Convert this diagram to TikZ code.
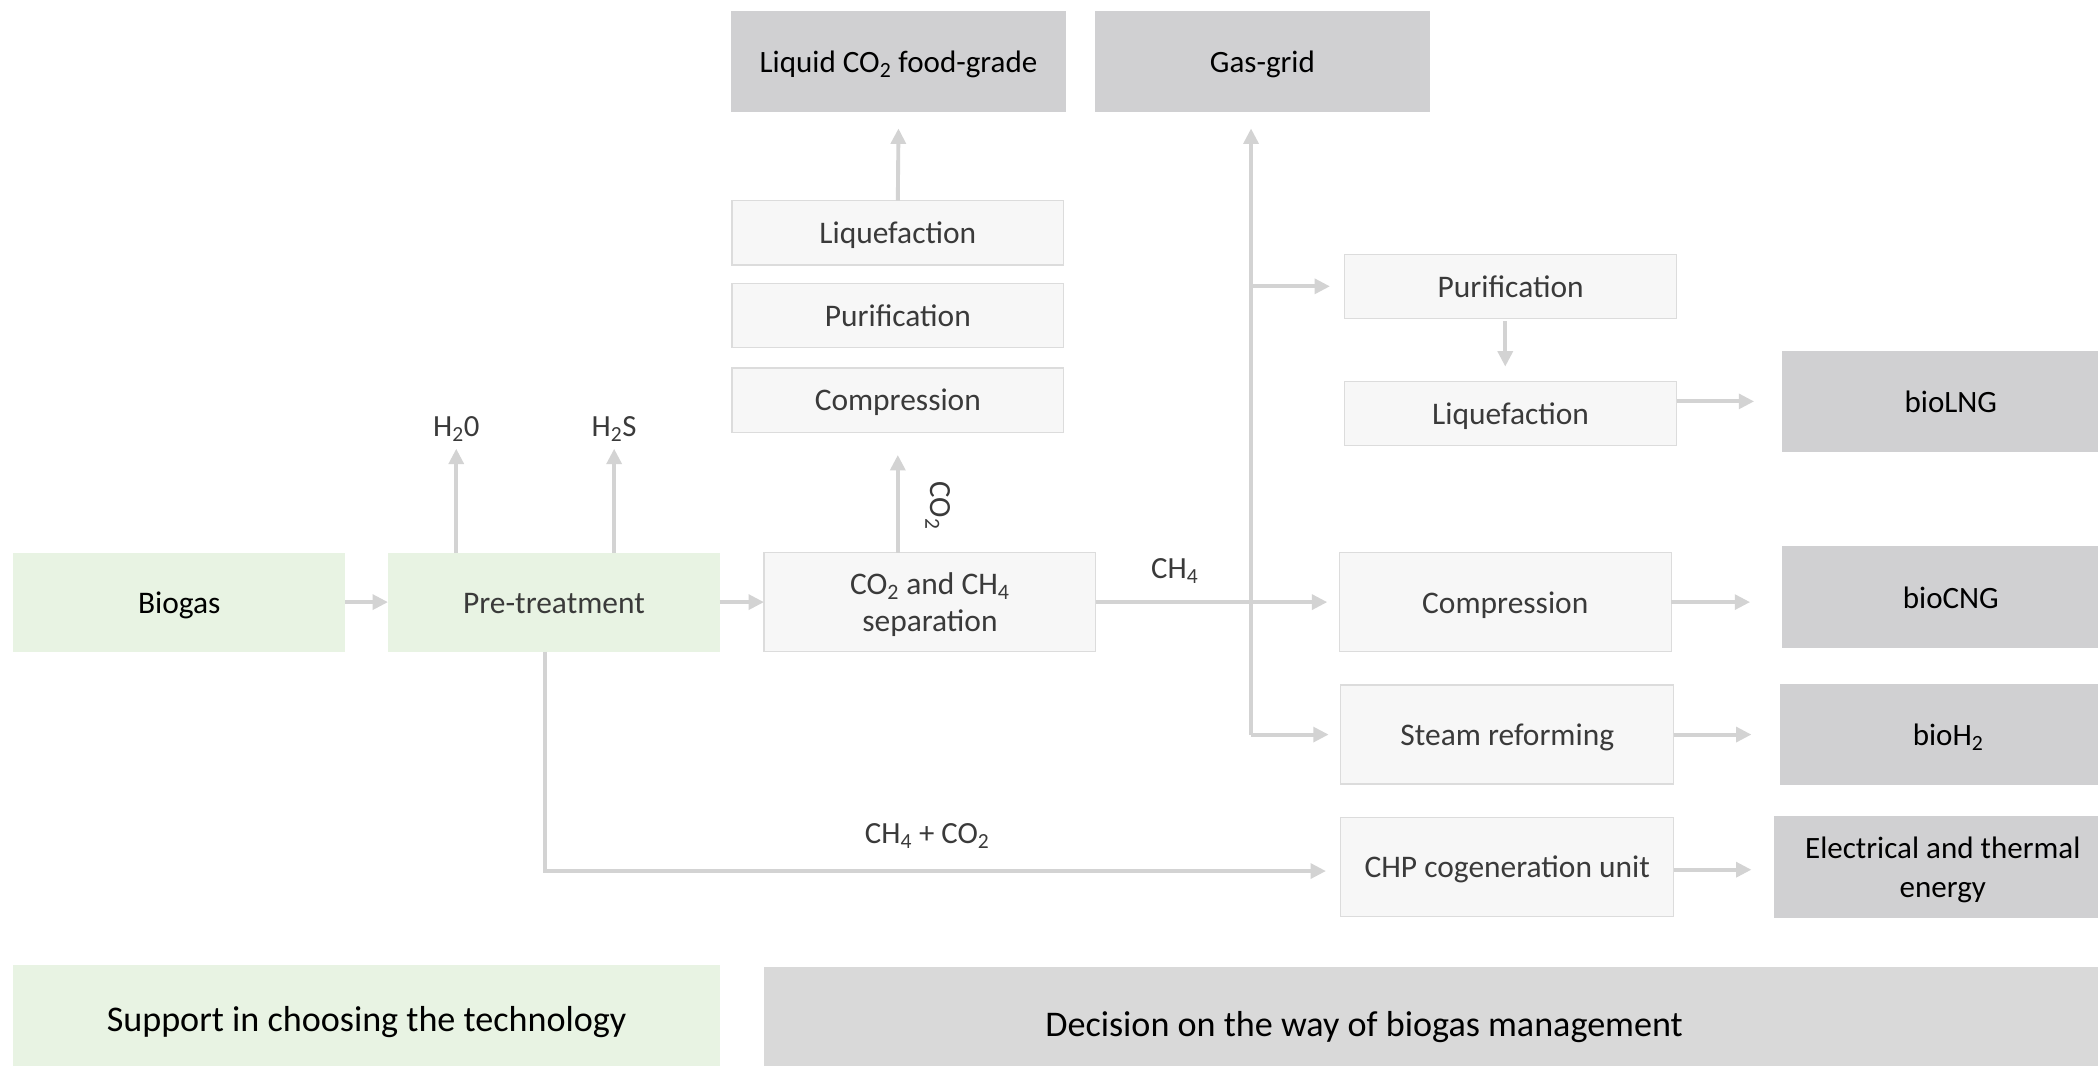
\documentclass[tikz,border=0pt]{standalone}
\usepackage{fontspec}
\setmainfont{Carlito}
\usetikzlibrary{arrows.meta,calc}
\definecolor{greenbox}{HTML}{E8F3E3}
\definecolor{procfill}{HTML}{F7F7F7}
\definecolor{procline}{HTML}{DCDCDC}
\definecolor{outfill}{HTML}{D0D0D2}
\definecolor{barfill}{HTML}{D9D9D9}
\definecolor{arrcol}{HTML}{D3D3D3}
\definecolor{txtgray}{HTML}{3A3A3A}
\tikzset{
  every node/.style={inner sep=0pt, outer sep=0pt},
  lowtext/.style={text height=21pt, text depth=4.7pt},
  procbox/.style={draw=procline, line width=0.9pt, fill=procfill, anchor=north west, align=center, font=\fontsize{23.5}{28}\selectfont, text=txtgray, lowtext},
  greenbox/.style={fill=greenbox, anchor=north west, align=center, font=\fontsize{23.5}{28}\selectfont, lowtext},
  outbox/.style={fill=outfill, anchor=north west, align=center, font=\fontsize{23.2}{29}\selectfont, text=black, text height=21.5pt, text depth=4.6pt},
  barbox/.style={anchor=north west, font=\fontsize{27}{32}\selectfont, text=black, text height=29pt, text depth=5.4pt},
  lbl/.style={font=\fontsize{23}{26}\selectfont, text=txtgray},
  arr/.style={draw=arrcol, line width=2.9pt, -{Triangle[length=11.5pt,width=11pt]}},
}
\newcommand{\sub}[1]{\textsubscript{#1}}
\begin{document}
\begin{tikzpicture}[x=1pt,y=-1pt]
\useasboundingbox (0,0) rectangle (1568,797);

% top outputs
\node[outbox, minimum width=251pt, minimum height=76pt] (liqco2) at (546,8) {Liquid CO\sub{2} food-grade};
\node[outbox, minimum width=251pt, minimum height=76pt] (gasgrid) at (818,8) {Gas-grid};

% CO2 column
\node[procbox, minimum width=248pt, minimum height=48pt] (liqA) at (547,150) {Liquefaction};
\node[procbox, minimum width=248pt, minimum height=48pt] (purA) at (547,212) {Purification};
\node[procbox, minimum width=248pt, minimum height=48pt] (compA) at (547,275) {Compression};

% main flow
\node[greenbox, minimum width=248pt, minimum height=74pt, text=black] (biogas) at (10,413) {Biogas};
\node[greenbox, minimum width=248pt, minimum height=74pt, text=txtgray] (pre) at (290,413) {Pre-treatment};
\node[procbox, minimum width=248pt, minimum height=74pt, text height=, text depth=0pt] (sep) at (571,413) {CO\sub{2} and CH\sub{4}\\separation};

% right process column
\node[procbox, minimum width=248pt, minimum height=48pt] (purB) at (1005,190) {Purification};
\node[procbox, minimum width=248pt, minimum height=48pt] (liqB) at (1005,285) {Liquefaction};
\node[procbox, minimum width=248pt, minimum height=74pt] (compB) at (1001,413) {Compression};
\node[procbox, minimum width=249pt, minimum height=74pt] (steam) at (1002,512) {Steam reforming};
\node[procbox, minimum width=249pt, minimum height=74pt] (chp) at (1002,611) {CHP cogeneration unit};

% right outputs (extend past the right edge)
\node[outbox, minimum width=252pt, minimum height=76pt] (lng) at (1332,262) {bioLNG};
\node[outbox, minimum width=252pt, minimum height=76pt] (cng) at (1332,408) {bioCNG};
\node[outbox, minimum width=252pt, minimum height=76pt] (h2) at (1330,511) {bioH\sub{2}};
\node[outbox, minimum width=252pt, minimum height=76pt, text height=, text depth=0pt] (elec) at (1326,610) {Electrical and thermal\\energy};

% bottom bars
\node[barbox, fill=greenbox, minimum width=528pt, minimum height=76pt] (support) at (10,721) {Support in choosing the technology};
\node[barbox, fill=barfill, minimum width=997pt, minimum height=74pt, text height=34pt] (decision) at (571,723) {\hspace*{-100pt}Decision on the way of biogas management};

% labels
\node[lbl] (h2o) at (341,321) {H\sub{2}0};
\node[lbl] (h2s) at (459,321) {H\sub{2}S};
\node[lbl, rotate=-90] (co2lbl) at (701,378) {CO\sub{2}};
\node[lbl] (ch4lbl) at (878,427) {CH\sub{4}};
\node[lbl] (mixlbl) at (693,625) {CH\sub{4} + CO\sub{2}};

% coordinates
\coordinate (vb) at (935,549);
\coordinate (vt) at (935,96);
\coordinate (bl) at (407,651);

% connectors
\draw[arr] (biogas.east) -- (pre.west);
\draw[arr] (pre.east) -- (sep.west);
\draw[arr] (pre.north -| h2o) -- ([yshift=-5pt]h2o.south);
\draw[arr] (pre.north -| h2s) -- ([yshift=-5pt]h2s.south);
\draw[arr] (sep.north -| compA) -- ([yshift=-17pt]compA.south);
\draw[arr] (liqA.north) -- ([yshift=-12pt]liqco2.south);
\draw[arr] (sep.east) -- ([xshift=-9pt]compB.west);
\draw[arr] (vb) -- (vt);
\draw[arr] (purB.west -| vb) -- ([xshift=-11pt]purB.west);
\draw[arr] (vb) -- ([xshift=-9pt]steam.west |- vb);
\draw[arr] ([yshift=-2pt]purB.south -| 1125,0) -- ([yshift=11pt]liqB.north -| 1125,0);
\draw[arr] (liqB.east |- lng) -- ([xshift=-21pt]lng.west);
\draw[arr] (compB.east) -- ([xshift=-24pt]cng.west |- compB.east);
\draw[arr] (steam.east |- vb) -- ([xshift=-21pt]h2.west |- vb);
\draw[arr] (chp.east |- 0,650) -- ([xshift=-17pt]elec.west |- 0,650);
\draw[arr] (pre.south -| bl) -- (bl) -- ([xshift=-11pt]chp.west |- bl);
\end{tikzpicture}
\end{document}
